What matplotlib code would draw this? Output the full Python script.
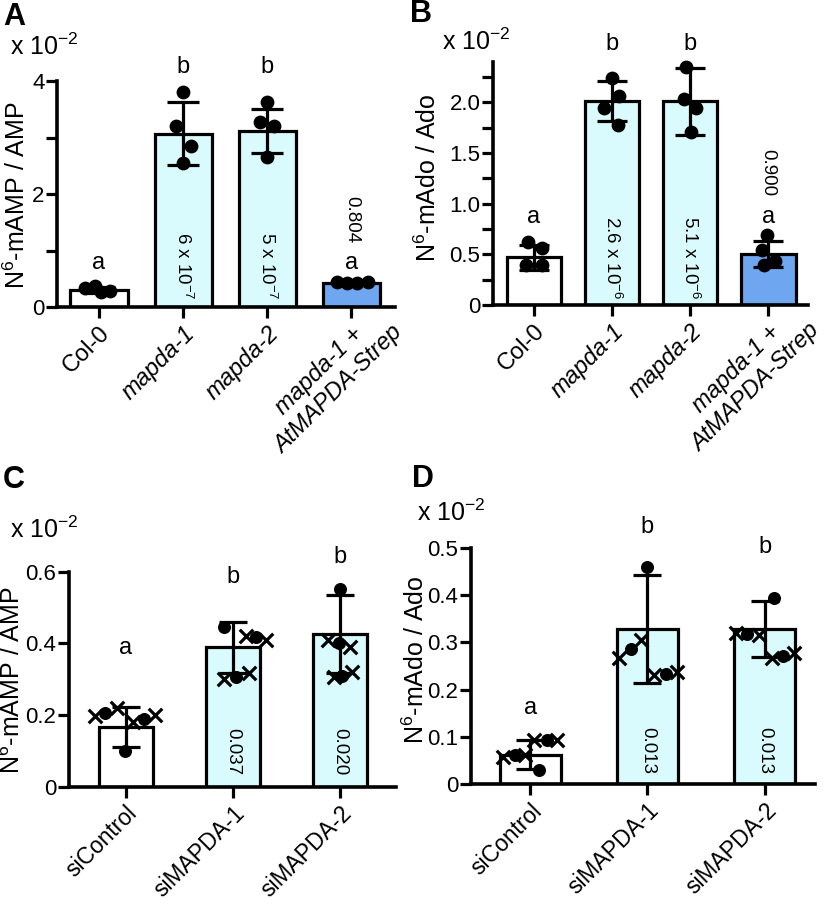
import matplotlib
matplotlib.use('Agg')
import matplotlib.pyplot as plt
import numpy as np
from matplotlib.ticker import FixedLocator, FixedFormatter

plt.rcParams['font.family'] = ['Liberation Sans', 'DejaVu Sans']
plt.rcParams['mathtext.fontset'] = 'custom'
plt.rcParams['mathtext.rm'] = 'Liberation Sans'
plt.rcParams['mathtext.it'] = 'Liberation Sans:italic'
plt.rcParams['mathtext.default'] = 'regular'

# ---------------- data ----------------
# Panel A
cats_A = ['Col-0', 'mapda-1', 'mapda-2', 'mapda-1 +\nAtMAPDA-Strep']
ital_A = [False, True, True, True]
mean_A = [0.30, 3.07, 3.12, 0.43]
sd_A = [0.05, 0.56, 0.39, 0.02]
pts_A = [[0.33, 0.38, 0.26, 0.28], [3.81, 3.20, 2.85, 2.54],
         [3.62, 3.28, 3.20, 2.66], [0.44, 0.43, 0.43, 0.44]]
jit_A = [[-0.17, -0.05, 0.02, 0.13], [0, -0.08, 0.09, 0],
         [0, -0.08, 0.08, 0], [-0.17, -0.05, 0.07, 0.2]]
letters_A = ['a', 'b', 'b', 'a']
pvals_A = ['', r'6 x 10$^{-7}$', r'5 x 10$^{-7}$', '0.804']
yticks_A = [0, 2, 4]
yticklabels_A = ['0', '2', '4']

# Panel B
cats_B = cats_A
mean_B = [0.47, 2.01, 2.01, 0.50]
sd_B = [0.12, 0.195, 0.33, 0.13]
pts_B = [[0.62, 0.56, 0.39, 0.39], [2.24, 2.06, 1.94, 1.78],
         [2.35, 2.03, 1.94, 1.71], [0.69, 0.54, 0.39, 0.43]]
jit_B = [[-0.08, 0.1, -0.1, 0.1], [0, 0.09, -0.1, 0.08],
         [-0.05, -0.08, 0.08, 0.01], [-0.02, -0.08, -0.06, 0.09]]
letters_B = ['a', 'b', 'b', 'a']
pvals_B = ['', r'2.6 x 10$^{-6}$', r'5.1 x 10$^{-6}$', '0.900']
yticks_B = [0, 0.5, 1.0, 1.5, 2.0]
yticklabels_B = ['0', '0.5', '1.0', '1.5', '2.0']

# Panel C
cats_C = ['siControl', 'siMAPDA-1', 'siMAPDA-2']
mean_C = [0.167, 0.389, 0.426]
sd_C = [0.056, 0.071, 0.11]
circ_C = [[0.205, 0.188, 0.10], [0.447, 0.419, 0.307], [0.551, 0.40, 0.31]]
circ_jit_C = [[-0.19, 0.17, -0.01], [-0.08, 0.21, 0.03], [0, -0.01, 0.02]]
cross_C = [[0.197, 0.219, 0.18, 0.20], [0.42, 0.41, 0.30, 0.316],
           [0.41, 0.39, 0.305, 0.32]]
cross_jit_C = [[-0.29, -0.08, 0.07, 0.27], [0.12, 0.31, -0.08, 0.15],
               [-0.11, 0.09, -0.06, 0.11]]
letters_C = ['a', 'b', 'b']
pvals_C = ['', '0.037', '0.020']
yticks_C = [0, 0.2, 0.4, 0.6]
yticklabels_C = ['0', '0.2', '0.4', '0.6']

# Panel D
cats_D = cats_C
mean_D = [0.062, 0.328, 0.328]
sd_D = [0.03, 0.115, 0.059]
circ_D = [[0.061, 0.092, 0.03], [0.285, 0.233, 0.459], [0.318, 0.271, 0.393]]
circ_jit_D = [[-0.13, 0.14, 0.08], [-0.14, 0.16, 0], [-0.15, 0.16, 0.08]]
cross_D = [[0.058, 0.062, 0.092, 0.092], [0.266, 0.305, 0.231, 0.238],
           [0.32, 0.316, 0.266, 0.277]]
cross_jit_D = [[-0.23, -0.04, 0.03, 0.23], [-0.24, -0.05, 0.06, 0.25],
               [-0.24, -0.05, 0.06, 0.25]]
letters_D = ['a', 'b', 'b']
pvals_D = ['', '0.013', '0.013']
yticks_D = [0, 0.1, 0.2, 0.3, 0.4, 0.5]
yticklabels_D = ['0', '0.1', '0.2', '0.3', '0.4', '0.5']

# ---------------- style ----------------
W, H = 829, 906
WHITE, CYAN, BLUE = '#ffffff', '#d9fbfd', '#6ea6f0'
LW = 2.3
XLAB_TOP = 17
XLAB_BOT = 16.5
TICKLEN, TICKPAD = 8, 3

fig = plt.figure(figsize=(W / 100, H / 100), dpi=100)
renderer = fig.canvas.get_renderer()


def rect(l, r, t, b):
    return [l / W, 1 - b / H, (r - l) / W, (b - t) / H]


def fxy(x, y):
    return (x / W, 1 - y / H)


def text_width(s, **kw):
    t = fig.text(0, 0, s, **kw)
    w = t.get_window_extent(renderer).width
    t.remove()
    return w


def style_axes(ax, yticks, ylabels, ylim, xlim, minor=None):
    for s in ['top', 'right']:
        ax.spines[s].set_visible(False)
    for s in ['left', 'bottom']:
        ax.spines[s].set_linewidth(LW + 0.3)
    ax.set_ylim(*ylim)
    ax.set_xlim(*xlim)
    ax.yaxis.set_major_locator(FixedLocator(yticks))
    ax.yaxis.set_major_formatter(FixedFormatter(ylabels))
    if minor is not None:
        ax.yaxis.set_minor_locator(FixedLocator(minor))
    ax.tick_params(axis='y', which='major', length=TICKLEN, width=LW, labelsize=16, pad=1)
    ax.tick_params(axis='y', which='minor', length=TICKLEN, width=LW)
    ax.tick_params(axis='x', which='major', length=TICKLEN, width=LW, pad=TICKPAD)


def draw_bars(ax, means, sds, colors, width, capsize):
    x = np.arange(len(means))
    ax.bar(x, means, width=width, color=colors, edgecolor='black',
           linewidth=LW, zorder=2)
    ax.errorbar(x, means, yerr=sds, fmt='none', ecolor='black',
                elinewidth=LW, capsize=capsize, capthick=LW, zorder=3)
    return x


def set_xlabels(ax, cats, italics, size):
    ax.set_xticks(np.arange(len(cats)))
    labels = ['' if '\n' in c else c for c in cats]
    ax.set_xticklabels(labels, rotation=45, ha='right', rotation_mode='anchor',
                       fontsize=size)
    for lab, it in zip(ax.get_xticklabels(), italics):
        lab.set_fontstyle('italic' if it else 'normal')
    # multi-line label: centred lines, first line ends at the tick
    for i, c in enumerate(cats):
        if '\n' in c:
            lines = c.split('\n')
            w1 = text_width(lines[0], fontsize=size, fontstyle='italic')
            w2 = max(text_width(l, fontsize=size, fontstyle='italic') for l in lines)
            d = (w2 - w1) / 2 * 72 / 100
            ax.annotate(c, xy=(i, 0), xycoords=('data', 'axes fraction'),
                        xytext=(d * 0.7071, -(TICKLEN + TICKPAD) + d * 0.7071),
                        textcoords='offset points', rotation=45,
                        rotation_mode='anchor', ha='right', va='top',
                        multialignment='center', fontsize=size,
                        fontstyle='italic', annotation_clip=False)


def ylab(ax, s, x, y):
    ax.set_ylabel(s, fontsize=18)
    ax.yaxis.set_label_coords(*fxy(x, y), transform=fig.transFigure)


# ---------------- Panel A ----------------
axA = fig.add_axes(rect(57, 395, 81, 307))
xA = draw_bars(axA, mean_A, sd_A, [WHITE, CYAN, CYAN, BLUE], 0.68, 11.5)
for i in range(4):
    axA.scatter(xA[i] + np.array(jit_A[i]), pts_A[i], s=80, color='black',
                zorder=4, clip_on=False)
style_axes(axA, yticks_A, yticklabels_A, (0, 4), (-0.5, 3.52), minor=[1, 3])
set_xlabels(axA, cats_A, ital_A, XLAB_TOP)
lettery_A = [0.78, 4.25, 4.25, 0.78]
for i in range(4):
    axA.text(xA[i], lettery_A[i], letters_A[i], ha='center', va='center', fontsize=17)
pvy_A = [0, 0.73, 0.73, 1.54]
for i in range(1, 4):
    axA.text(xA[i], pvy_A[i], pvals_A[i], ha='center', va='center', rotation=270,
             fontsize=13.5)
ylab(axA, r'N$^{6}$-mAMP / AMP', 30, 195)
fig.text(*fxy(10, 47), r'x 10$^{-2}$', fontsize=18, ha='left', va='center')
fig.text(*fxy(3, 25), 'A', fontsize=22, fontweight='bold', ha='left', va='baseline')

# ---------------- Panel B ----------------
axB = fig.add_axes(rect(493, 808, 61.7, 305))
xB = draw_bars(axB, mean_B, sd_B, [WHITE, CYAN, CYAN, BLUE], 0.7, 11)
for i in range(4):
    axB.scatter(xB[i] + np.array(jit_B[i]), pts_B[i], s=80, color='black',
                zorder=4, clip_on=False)
style_axes(axB, yticks_B, yticklabels_B, (0, 2.4), (-0.526, 3.51),
           minor=[0.25, 0.75, 1.25, 1.75, 2.25])
set_xlabels(axB, cats_B, ital_A, XLAB_TOP)
lettery_B = [0.87, 2.57, 2.57, 0.87]
for i in range(4):
    axB.text(xB[i], lettery_B[i], letters_B[i], ha='center', va='center', fontsize=17)
pvy_B = [0, 0.47, 0.47, 1.31]
for i in range(1, 4):
    axB.text(xB[i], pvy_B[i], pvals_B[i], ha='center', va='center', rotation=270,
             fontsize=13.5)
ylab(axB, r'N$^{6}$-mAdo / Ado', 441, 178)
fig.text(*fxy(442, 42), r'x 10$^{-2}$', fontsize=18, ha='left', va='center')
fig.text(*fxy(410, 22), 'B', fontsize=22, fontweight='bold', ha='left', va='baseline')

# ---------------- Panel C ----------------
axC = fig.add_axes(rect(69, 396, 571.7, 786.7))
xC = draw_bars(axC, mean_C, sd_C, [WHITE, CYAN, CYAN], 0.5, 10)
for i in range(3):
    axC.scatter(xC[i] + np.array(cross_jit_C[i]), cross_C[i], s=95, marker='x',
                color='black', linewidths=LW, zorder=4, clip_on=False)
    axC.scatter(xC[i] + np.array(circ_jit_C[i]), circ_C[i], s=70, color='black',
                zorder=5, clip_on=False)
style_axes(axC, yticks_C, yticklabels_C, (0, 0.6), (-0.53, 2.52))
set_xlabels(axC, cats_C, [False, False, False], XLAB_BOT)
lettery_C = [0.386, 0.586, 0.642]
for i in range(3):
    axC.text(xC[i], lettery_C[i], letters_C[i], ha='center', va='center', fontsize=17)
for i in range(1, 3):
    axC.text(xC[i], 0.098, pvals_C[i], ha='center', va='center', rotation=270,
             fontsize=13.5)
ylab(axC, r'N$^{6}$-mAMP / AMP', 25.5, 680)
fig.text(*fxy(10, 530), r'x 10$^{-2}$', fontsize=18, ha='left', va='center')
fig.text(*fxy(3, 488), 'C', fontsize=22, fontweight='bold', ha='left', va='baseline')

# ---------------- Panel D ----------------
axD = fig.add_axes(rect(471, 815, 547.9, 783.9))
xD = draw_bars(axD, mean_D, sd_D, [WHITE, CYAN, CYAN], 0.52, 10)
for i in range(3):
    axD.scatter(xD[i] + np.array(cross_jit_D[i]), cross_D[i], s=95, marker='x',
                color='black', linewidths=LW, zorder=4, clip_on=False)
    axD.scatter(xD[i] + np.array(circ_jit_D[i]), circ_D[i], s=70, color='black',
                zorder=5, clip_on=False)
style_axes(axD, yticks_D, yticklabels_D, (0, 0.5), (-0.504, 2.43))
set_xlabels(axD, cats_D, [False, False, False], XLAB_BOT)
lettery_D = [0.16, 0.545, 0.502]
for i in range(3):
    axD.text(xD[i], lettery_D[i], letters_D[i], ha='center', va='center', fontsize=17)
for i in range(1, 3):
    axD.text(xD[i], 0.07, pvals_D[i], ha='center', va='center', rotation=270,
             fontsize=13.5)
ylab(axD, r'N$^{6}$-mAdo / Ado', 429, 660)
fig.text(*fxy(417, 513), r'x 10$^{-2}$', fontsize=18, ha='left', va='center')
fig.text(*fxy(412, 487), 'D', fontsize=22, fontweight='bold', ha='left', va='baseline')

fig.savefig('out.png', dpi=100)
